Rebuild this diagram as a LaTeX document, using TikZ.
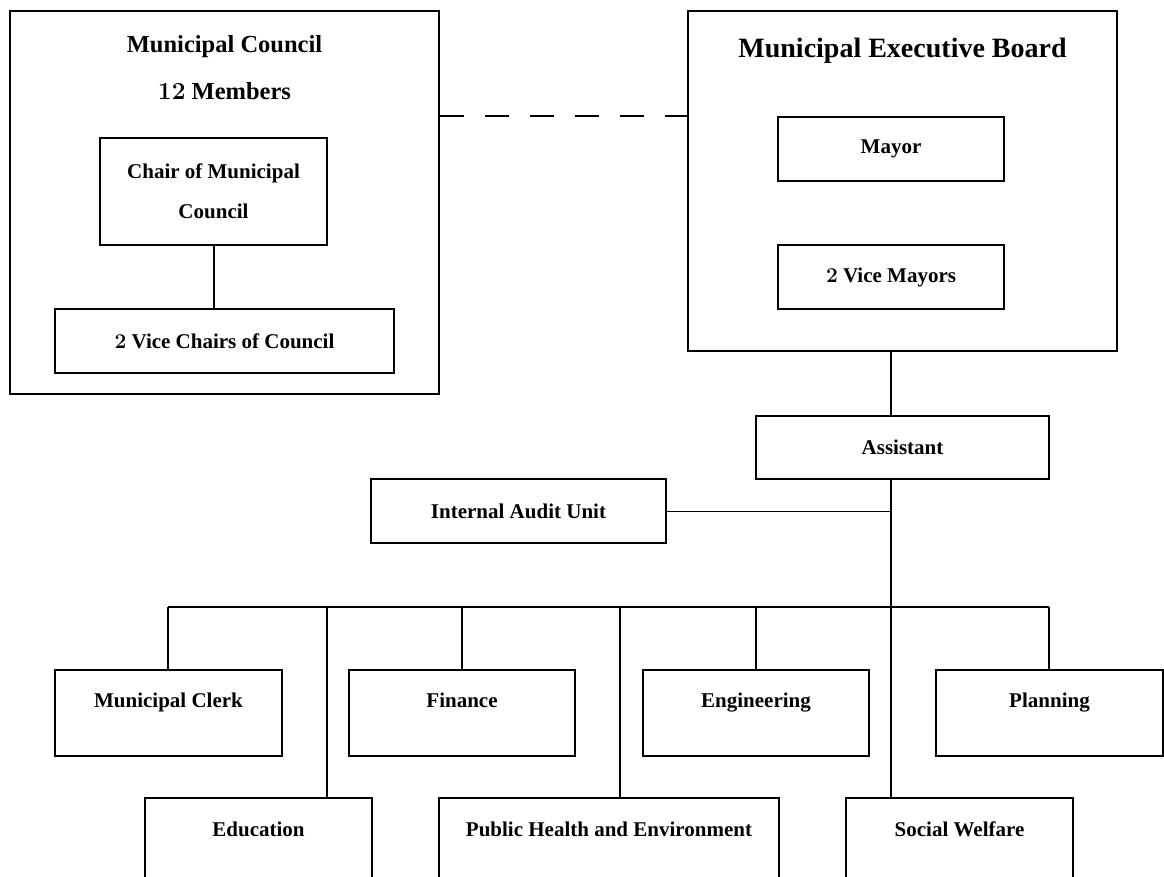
\documentclass[tikz,border=0pt]{standalone}
\usepackage{fontspec}
\newfontfamily\tnr{Liberation Serif}
\usetikzlibrary{calc}
\tikzset{
  box/.style={draw, line width=1.6pt, rectangle, inner sep=0pt, align=center,
    font=\tnr\bfseries\fontsize{21}{40}\selectfont},
  dept/.style={draw, line width=1.6pt, rectangle, inner sep=0pt, minimum height=86pt},
  lbl/.style={font=\tnr\bfseries\fontsize{21}{25}\selectfont, inner sep=0pt, anchor=base},
  ttl/.style={font=\tnr\bfseries\fontsize{24.5}{28}\selectfont, inner sep=0pt, anchor=base},
  bigttl/.style={font=\tnr\bfseries\fontsize{28}{32}\selectfont, inner sep=0pt, anchor=base},
  conn/.style={line width=1.6pt},
  thinconn/.style={line width=0.9pt},
  dashline/.style={line width=1.5pt, dash pattern=on 24pt off 21pt},
}
\begin{document}
\begin{tikzpicture}[x=1pt,y=-1pt]
\useasboundingbox (0,0) rectangle (1164,877);
\clip (0,0) rectangle (1164,877);

% Municipal council group
\node[box, minimum width=429pt, minimum height=383pt] (council) at (224.5,202.5) {};
\node[ttl] (ctitle) at (224.5,53) {Municipal Council};
\node[ttl] (cmembers) at (224.5,100) {{\rmfamily 12} Members};
\node[box, minimum width=227pt, minimum height=107pt] (chair) at (213.5,191.5) {Chair of Municipal\\Council};
\node[box, minimum width=339pt, minimum height=64pt] (vchairs) at (224.5,341) {{\rmfamily 2} Vice Chairs of Council};

% Executive board group
\node[box, minimum width=429pt, minimum height=340pt] (exec) at (902.5,181) {};
\node[bigttl] (etitle) at (902.5,58) {Municipal Executive Board};
\node[box, minimum width=226pt, minimum height=64pt] (mayor) at (891,149) {Mayor};
\node[box, minimum width=226pt, minimum height=64pt] (vmayors) at (891,277) {{\rmfamily 2} Vice Mayors};

% Assistant and audit
\node[box, minimum width=293pt, minimum height=63pt] (assistant) at (902.5,447.5) {Assistant};
\node[box, minimum width=295pt, minimum height=64pt] (audit) at (518.5,511) {Internal Audit Unit};

% Departments, top row
\node[dept, minimum width=227pt] (clerk) at (168.5,713) {};
\node[dept, minimum width=226pt] (finance) at (462,713) {};
\node[dept, minimum width=226pt] (eng) at (756,713) {};
\node[dept, minimum width=227pt] (plan) at (1049.5,713) {};
% Departments, bottom row
\node[dept, minimum width=227pt] (edu) at (258.5,841) {};
\node[dept, minimum width=340pt] (ph) at (609,841) {};
\node[dept, minimum width=227pt] (sw) at (959.5,841) {};

\node[lbl] (clerkt) at ($(clerk.north)+(0,38)$) {Municipal Clerk};
\node[lbl] (financet) at ($(finance.north)+(0,38)$) {Finance};
\node[lbl] (engt) at ($(eng.north)+(0,38)$) {Engineering};
\node[lbl] (plant) at ($(plan.north)+(0,38)$) {Planning};
\node[lbl] (edut) at ($(edu.north)+(0,39)$) {Education};
\node[lbl] (pht) at ($(ph.north)+(0,39)$) {Public Health and Environment};
\node[lbl] (swt) at ($(sw.north)+(0,39)$) {Social Welfare};

% Connectors
\coordinate (dl) at (0,116);
\coordinate (cdrop) at (168,607);
\coordinate (fdrop) at (462,607);
\coordinate (gdrop) at (756,607);
\coordinate (ldrop) at (1049,607);
\coordinate (edrop) at (327,607);
\coordinate (pdrop) at (620,607);
\coordinate (trunk) at (891,0);
\coordinate (cx) at (214,0);

\draw[conn] (chair.south -| cx) -- (vchairs.north -| cx);
\draw[dashline] (council.east |- dl) -- (exec.west |- dl);
\draw[conn] (exec.south -| trunk) -- (assistant.north -| trunk);
\draw[conn] (assistant.south -| trunk) -- (sw.north -| trunk);
\draw[thinconn] (audit.east) -- (audit.east -| trunk);
\draw[conn] (cdrop) -- (ldrop);
\draw[conn] (cdrop) -- (cdrop |- clerk.north);
\draw[conn] (fdrop) -- (fdrop |- finance.north);
\draw[conn] (gdrop) -- (gdrop |- eng.north);
\draw[conn] (ldrop) -- (ldrop |- plan.north);
\draw[conn] (edrop) -- (edrop |- edu.north);
\draw[conn] (pdrop) -- (pdrop |- ph.north);
\end{tikzpicture}
\end{document}
